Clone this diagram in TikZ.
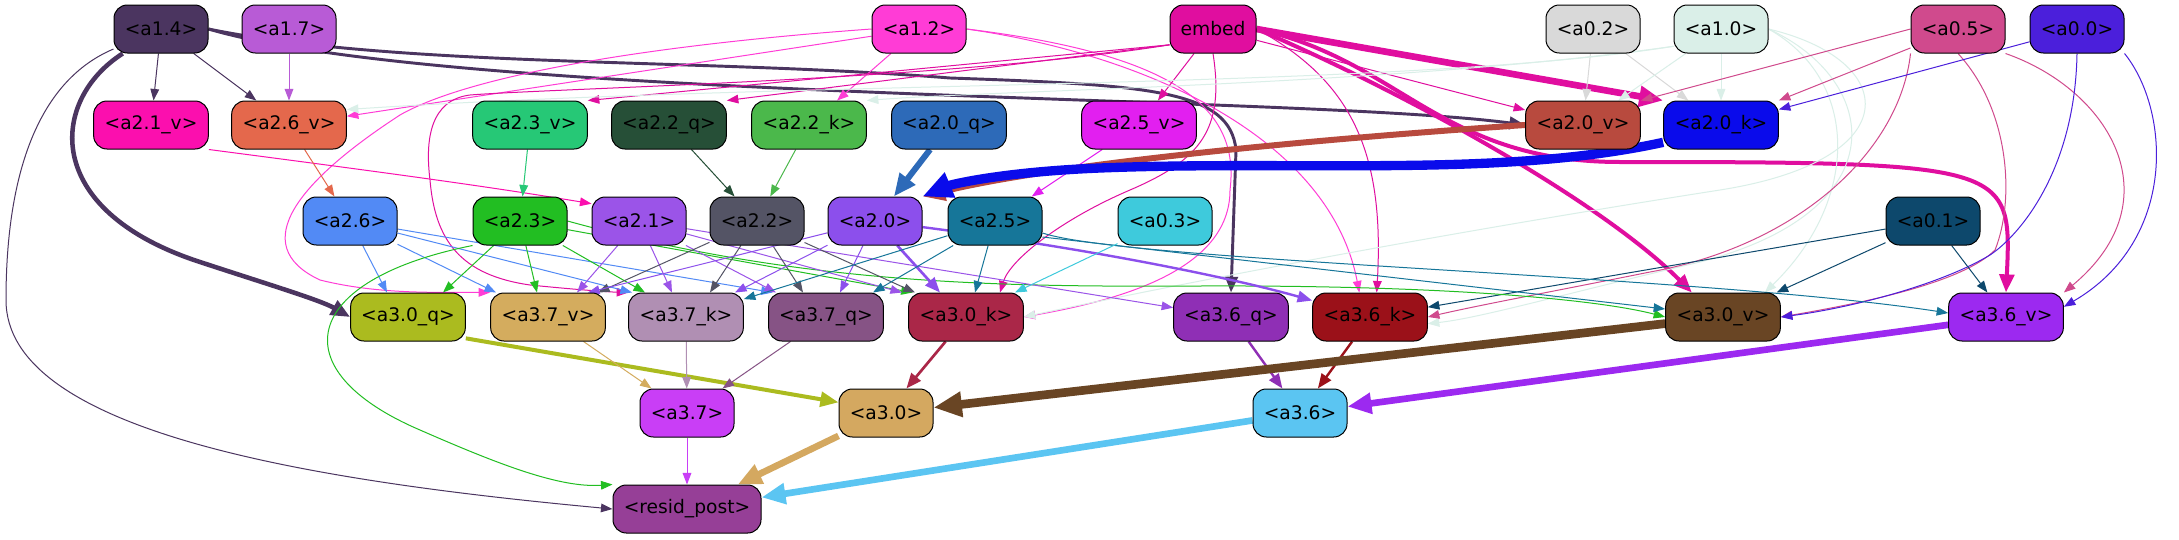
\documentclass[tikz,border=0pt]{standalone}
\usepackage{fontspec}
\setmainfont{DejaVu Sans}
\usetikzlibrary{arrows.meta}
\pgfdeclarelayer{bg}
\pgfsetlayers{bg,main}
\definecolor{c14}{HTML}{4B3560}
\definecolor{c17}{HTML}{B85BD6}
\definecolor{c12}{HTML}{FF3CD6}
\definecolor{cemb}{HTML}{E00E9F}
\definecolor{c02}{HTML}{D9D9D9}
\definecolor{c10}{HTML}{DAEFE8}
\definecolor{c05}{HTML}{D04A8D}
\definecolor{c00}{HTML}{4B1FDB}
\definecolor{c21v}{HTML}{FB0FAE}
\definecolor{c26v}{HTML}{E4684C}
\definecolor{c23v}{HTML}{26C876}
\definecolor{c22q}{HTML}{264F37}
\definecolor{c22k}{HTML}{4BB84B}
\definecolor{c20q}{HTML}{2D6AB8}
\definecolor{c25v}{HTML}{E21FF0}
\definecolor{c20v}{HTML}{B84A3E}
\definecolor{c20k}{HTML}{0A0BEB}
\definecolor{c26}{HTML}{528AF5}
\definecolor{c23}{HTML}{22BE22}
\definecolor{c21}{HTML}{9B54E8}
\definecolor{c22}{HTML}{545465}
\definecolor{c20}{HTML}{8C4FEC}
\definecolor{c25}{HTML}{167699}
\definecolor{c03}{HTML}{3ECADC}
\definecolor{c01}{HTML}{0D486C}
\definecolor{c30q}{HTML}{ABBB1F}
\definecolor{c37v}{HTML}{D4AC5E}
\definecolor{c37k}{HTML}{B08FB3}
\definecolor{c37q}{HTML}{865385}
\definecolor{c30k}{HTML}{AA2748}
\definecolor{c36q}{HTML}{8F2FB5}
\definecolor{c36k}{HTML}{9B1119}
\definecolor{c30v}{HTML}{694524}
\definecolor{c36v}{HTML}{9C29F0}
\definecolor{c37}{HTML}{C93EF6}
\definecolor{c30}{HTML}{D4A860}
\definecolor{c36}{HTML}{5BC5F2}
\definecolor{cres}{HTML}{963F97}
\tikzset{
  nd/.style={draw=black, line width=0.75pt, rounded corners=10pt, minimum height=36pt, inner sep=0pt, font=\fontsize{14pt}{16pt}\selectfont, text=black},
  ws/.style={minimum width=70.5pt},
  wm/.style={minimum width=86pt},
  ed/.style={draw=#1, line width=0.75pt, -{Triangle[length=7pt 2.2,width=5pt 2]}}
}
\begin{document}
\begin{tikzpicture}[x=0.75pt,y=-0.75pt]
\useasboundingbox (0,0) rectangle (2179,539);
% row 1
\node[nd, ws, fill=c14] (a14) at (161,29) {<a1.4>};
\node[nd, ws, fill=c17] (a17) at (289,29) {<a1.7>};
\node[nd, ws, fill=c12] (a12) at (919,29) {<a1.2>};
\node[nd, minimum width=64.5pt, fill=cemb] (emb) at (1213,29) {embed};
\node[nd, ws, fill=c02] (a02) at (1593,29) {<a0.2>};
\node[nd, ws, fill=c10] (a10) at (1721,29) {<a1.0>};
\node[nd, ws, fill=c05] (a05) at (1958,29) {<a0.5>};
\node[nd, ws, fill=c00] (a00) at (2077,29) {<a0.0>};
% row 2
\node[nd, wm, fill=c21v] (a21v) at (151,125) {<a2.1\_v>};
\node[nd, wm, fill=c26v] (a26v) at (289,125) {<a2.6\_v>};
\node[nd, wm, fill=c23v] (a23v) at (530,125) {<a2.3\_v>};
\node[nd, wm, fill=c22q] (a22q) at (669,125) {<a2.2\_q>};
\node[nd, wm, fill=c22k] (a22k) at (809,125) {<a2.2\_k>};
\node[nd, wm, fill=c20q] (a20q) at (949,125) {<a2.0\_q>};
\node[nd, wm, fill=c25v] (a25v) at (1139,125) {<a2.5\_v>};
\node[nd, wm, fill=c20v] (a20v) at (1583,125) {<a2.0\_v>};
\node[nd, wm, fill=c20k] (a20k) at (1721,125) {<a2.0\_k>};
% row 3
\node[nd, ws, fill=c26] (a26) at (350,221) {<a2.6>};
\node[nd, ws, fill=c23] (a23) at (520,221) {<a2.3>};
\node[nd, ws, fill=c21] (a21) at (639,221) {<a2.1>};
\node[nd, ws, fill=c22] (a22) at (757,221) {<a2.2>};
\node[nd, ws, fill=c20] (a20) at (875,221) {<a2.0>};
\node[nd, ws, fill=c25] (a25) at (995,221) {<a2.5>};
\node[nd, ws, fill=c03] (a03) at (1165,221) {<a0.3>};
\node[nd, ws, fill=c01] (a01) at (1933,221) {<a0.1>};
% row 4
\node[nd, wm, fill=c30q] (a30q) at (408,317) {<a3.0\_q>};
\node[nd, wm, fill=c37v] (a37v) at (548,317) {<a3.7\_v>};
\node[nd, wm, fill=c37k] (a37k) at (686,317) {<a3.7\_k>};
\node[nd, wm, fill=c37q] (a37q) at (826,317) {<a3.7\_q>};
\node[nd, wm, fill=c30k] (a30k) at (966,317) {<a3.0\_k>};
\node[nd, wm, fill=c36q] (a36q) at (1231,317) {<a3.6\_q>};
\node[nd, wm, fill=c36k] (a36k) at (1370,317) {<a3.6\_k>};
\node[nd, wm, fill=c30v] (a30v) at (1723,317) {<a3.0\_v>};
\node[nd, wm, fill=c36v] (a36v) at (2006,317) {<a3.6\_v>};
% row 5, 6
\node[nd, ws, fill=c37] (a37) at (687,413) {<a3.7>};
\node[nd, ws, fill=c30] (a30) at (886,413) {<a3.0>};
\node[nd, ws, fill=c36] (a36) at (1300,413) {<a3.6>};
\node[nd, minimum width=111pt, fill=cres] (res) at (687,509) {<resid\_post>};

\begin{pgfonlayer}{bg}
\fill[white] (0,0) rectangle (2179,539);
% a1.4
\draw[ed=c14] (a14) -- (a21v);
\draw[ed=c14] (a14) -- (a26v);
\draw[ed=c14, line width=2.2pt] (a14.east) .. controls (450,100) and (1300,95) .. (a20v.west);
\draw[ed=c14, line width=2.2pt] (a14.east) .. controls (400,68) and (700,58) .. (950,78) .. controls (1150,85) and (1230,90) .. (1236,150) -- (a36q.north);
\draw[ed=c14, line width=3.4pt] (a14) .. controls (50,100) and (40,210) .. (200,262) .. controls (270,285) and (320,300) .. (a30q.west);
\draw[ed=c14] (a14) .. controls (40,80) and (6,170) .. (6,300) .. controls (6,430) and (300,480) .. (res.west);
% a1.7
\draw[ed=c17] (a17) -- (a26v);
% a1.2
\draw[ed=c12] (a12) -- (a26v);
\draw[ed=c12] (a12) -- (a22k);
\draw[ed=c12] (a12.west) .. controls (650,45) and (470,75) .. (400,115) .. controls (300,180) and (245,245) .. (320,280) .. controls (380,295) and (440,292) .. (a37v.north west);
\draw[ed=c12] (a12.east) .. controls (1150,55) and (1330,140) .. ([xshift=-8pt]a36k.north);
\draw[ed=c12] (a12.east) .. controls (1180,55) and (1240,110) .. (1230,190) .. controls (1230,270) and (1120,300) .. (a30k.east);
% embed
\draw[ed=cemb, line width=5pt] (emb.east) -- (a20k.north west);
\draw[ed=cemb] (emb) -- (a20v);
\draw[ed=cemb] (emb) -- (a25v);
\draw[ed=cemb] (emb.200) -- (a23v.north east);
\draw[ed=cemb] (emb.200) -- (a22q.north east);
\draw[ed=cemb, line width=3pt] (emb.east) .. controls (1400,90) and (1600,200) .. ([xshift=20pt]a30v.north west);
\draw[ed=cemb, line width=3pt] (emb.east) .. controls (1400,60) and (1440,162) .. (1620,162) .. controls (2010,162) and (2012,165) .. (a36v.north);
\draw[ed=cemb] (emb.east) .. controls (1350,80) and (1385,150) .. ([xshift=5pt]a36k.north);
\draw[ed=cemb] (emb.south) .. controls (1225,130) and (1200,160) .. (1130,190) .. controls (1060,220) and (1010,260) .. ([xshift=25.5pt]a30k.north);
\draw[ed=cemb] (emb.200) .. controls (950,80) and (560,88) .. (470,95) .. controls (430,100) and (425,140) .. (430,180) .. controls (435,240) and (460,275) .. (530,285) .. controls (580,290) and (610,292) .. (a37k.north west);
% a0.2
\draw[ed=c02] (a02) -- (a20v);
\draw[ed=c02] (a02) -- (a20k);
% a1.0
\draw[ed=c10] (a10) -- (a20v);
\draw[ed=c10] (a10) -- (a20k);
\draw[ed=c10] (a10.200) .. controls (1400,85) and (1000,90) .. (a22k.north east);
\draw[ed=c10] (a10.200) .. controls (1400,90) and (800,80) .. (a26v.15);
\draw[ed=c10] (a10.east) .. controls (1860,80) and (1860,200) .. ([xshift=-12pt]a30v.north east);
\draw[ed=c10] (a10.east) .. controls (1900,60) and (1910,160) .. (1720,190) .. controls (1400,240) and (1150,290) .. (a30k.east);
\draw[ed=c10] (a10.east) .. controls (1880,80) and (1900,210) .. (1700,262) .. controls (1560,295) and (1480,318) .. ([yshift=-5pt]a36k.east);
% a0.5
\draw[ed=c05] (a05.west) -- (a20v.north east);
\draw[ed=c05] (a05) -- (a20k.north east);
\draw[ed=c05] (a05.south west) .. controls (1900,150) and (1800,245) .. (1650,272) .. controls (1550,292) and (1480,305) .. (a36k.east);
\draw[ed=c05] (a05.south) .. controls (2010,110) and (2015,200) .. (1995,250) .. controls (1960,285) and (1850,305) .. (a30v.east);
\draw[ed=c05] (a05.south east) .. controls (2110,90) and (2175,200) .. (a36v.north east);
% a0.0
\draw[ed=c00] (a00) -- (a20k);
\draw[ed=c00] (a00.south) .. controls (2075,170) and (2020,235) .. (1990,255) .. controls (1940,285) and (1850,308) .. (a30v.east);
\draw[ed=c00] (a00.south east) .. controls (2170,110) and (2178,240) .. (a36v.10);
% a0.1
\draw[ed=c01] (a01) -- (a30v);
\draw[ed=c01] (a01) -- (a36k);
\draw[ed=c01] (a01) -- (a36v);
% rank 2 -> rank 3
\draw[ed=c21v] (a21v.south east) .. controls (350,168) and (480,185) .. (a21.160);
\draw[ed=c26v] (a26v) -- (a26);
\draw[ed=c23v] (a23v) -- (a23);
\draw[ed=c22q] (a22q) -- (a22);
\draw[ed=c22k] (a22k) -- (a22);
\draw[ed=c20q, line width=4.5pt] (a20q) -- (a20);
\draw[ed=c25v] (a25v) -- (a25);
\draw[ed=c20v, line width=4.5pt] (a20v.west) .. controls (1300,140) and (1050,165) .. (a20.north east);
\draw[ed=c20k, line width=7pt] ([yshift=-13pt]a20k.west) .. controls (1500,178) and (1300,160) .. (1100,168) .. controls (1000,172) and (950,185) .. (a20.north east);
% a2.6
\draw[ed=c26] (a26) -- ([xshift=-15.75pt]a30q.north);
\draw[ed=c26] (a26) -- ([xshift=-39pt]a37v.north);
\draw[ed=c26] (a26) -- ([xshift=-40.5pt]a37k.north);
\draw[ed=c26] (a26) -- ([xshift=-40pt]a37q.north);
% a2.3
\draw[ed=c23] (a23) -- ([xshift=26.25pt]a30q.north);
\draw[ed=c23] (a23) -- ([xshift=-8.25pt]a37v.north);
\draw[ed=c23] (a23) -- ([xshift=-30.75pt]a37k.north);
\draw[ed=c23] (a23) -- ([xshift=-40pt]a30k.north);
\draw[ed=c23] (a23.east) .. controls (800,285) and (1000,287) .. (1200,286) .. controls (1450,285) and (1600,300) .. (a30v.west);
\draw[ed=c23] (a23.south west) .. controls (300,280) and (280,370) .. (420,430) .. controls (500,465) and (560,488) .. (res.north west);
% a2.1
\draw[ed=c21] (a21) -- ([xshift=21.75pt]a37v.north);
\draw[ed=c21] (a21) -- ([xshift=-10.5pt]a37k.north);
\draw[ed=c21] (a21) -- ([xshift=-37.5pt]a37q.north);
\draw[ed=c21] (a21) -- ([xshift=-48pt]a30k.north);
\draw[ed=c21] (a21) -- (a36q);
% a2.2
\draw[ed=c22] (a22) -- ([xshift=37.5pt]a37v.north);
\draw[ed=c22] (a22) -- ([xshift=18pt]a37k.north);
\draw[ed=c22] (a22) -- ([xshift=-17.25pt]a37q.north);
\draw[ed=c22] (a22) -- ([xshift=-38.25pt]a30k.north);
% a2.0
\draw[ed=c20] (a20) -- ([xshift=30pt]a37v.north);
\draw[ed=c20] (a20) -- ([xshift=36.75pt]a37k.north);
\draw[ed=c20] (a20) -- ([xshift=10.5pt]a37q.north);
\draw[ed=c20, line width=2pt] (a20) -- ([xshift=-19.5pt]a30k.north);
\draw[ed=c20, line width=1.8pt] (a20) .. controls (1100,250) and (1240,280) .. (a36k);
% a2.5
\draw[ed=c25] (a25) -- (a37k);
\draw[ed=c25] (a25) -- ([xshift=35.25pt]a37q.north);
\draw[ed=c25] (a25) -- ([xshift=6.75pt]a30k.north);
\draw[ed=c25] ([yshift=-12pt]a25.east) -- ([yshift=6pt]a30v.west);
\draw[ed=c25] ([yshift=-9pt]a25.east) .. controls (1130,262) and (1700,275) .. ([yshift=3pt]a36v.west);
% a0.3
\draw[ed=c03] (a03) -- ([xshift=36.75pt]a30k.north);
% rank 4 -> 5
\draw[ed=c30q, line width=3pt] ([yshift=-16pt]a30q.east) -- ([yshift=8pt]a30.west);
\draw[ed=c37v] (a37v) -- (a37);
\draw[ed=c37k] (a37k) -- (a37);
\draw[ed=c37q] (a37q) -- (a37);
\draw[ed=c30k, line width=2pt] (a30k) -- (a30);
\draw[ed=c36q, line width=1.8pt] (a36q) -- (a36);
\draw[ed=c36k, line width=1.8pt] (a36k) -- (a36);
\draw[ed=c30v, line width=6.5pt] (a30v) -- (a30);
\draw[ed=c36v, line width=5pt] (a36v) -- (a36);
% to resid_post
\draw[ed=c37] (a37) -- (res);
\draw[ed=c30, line width=5pt] (a30) -- (res);
\draw[ed=c36, line width=5pt] (a36) -- (res);
\end{pgfonlayer}
\end{tikzpicture}
\end{document}
